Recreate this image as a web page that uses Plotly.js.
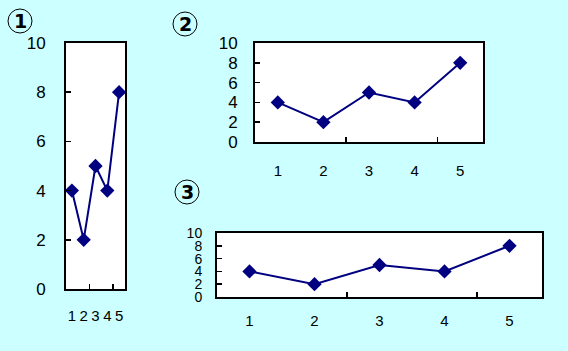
<!DOCTYPE html>
<html>
<head>
<meta charset="utf-8">
<script src="https://cdn.plot.ly/plotly-3.0.1.min.js"></script>
<style>
  html, body { margin: 0; padding: 0; background: #ccffff; }
  #chart { width: 568px; height: 351px; }
</style>
</head>
<body>
<div id="chart"></div>
<script>
// same series shown in three chart shapes
var categories = [1, 2, 3, 4, 5];
var tickLabels = ['1', '2', '3', '4', '5'];
var values = [4, 2, 5, 4, 8];
var yTicks = [0, 2, 4, 6, 8, 10];
var chartLabels = ['1', '2', '3'];

var W = 568, H = 351;
var navy = '#000080';
var fontFam = 'Liberation Sans, Arial, sans-serif';

function px(x) { return x / W; }
function py(y) { return 1 - y / H; }

function trace(n) {
    return {
        x: categories,
        y: values,
        type: 'scatter',
        mode: 'lines+markers',
        xaxis: 'x' + (n === 1 ? '' : n),
        yaxis: 'y' + (n === 1 ? '' : n),
        line: { color: navy, width: 2 },
        marker: { symbol: 'diamond', size: 11, color: navy },
        hoverinfo: 'none'
    };
}

function xAxis(domain, anchor, standoff) {
    return {
        domain: domain,
        anchor: anchor,
        range: [0.5, 5.5],
        tickmode: 'array',
        tickvals: categories,
        ticktext: tickLabels,
        ticks: '',
        ticklabelstandoff: standoff,
        tickfont: { family: fontFam, size: 15, color: '#000' },
        showgrid: false,
        zeroline: false,
        showline: true,
        mirror: true,
        linecolor: '#000',
        linewidth: 2,
        minor: { tickmode: 'array', tickvals: [2.5, 4.5], ticks: 'inside', ticklen: 5, tickwidth: 1.5, tickcolor: '#000', showgrid: false },
        fixedrange: true
    };
}

function yAxis(domain, anchor, size, standoff) {
    return {
        domain: domain,
        anchor: anchor,
        range: [0, 10],
        tickmode: 'array',
        tickvals: yTicks,
        ticks: 'inside',
        ticklen: 5,
        tickwidth: 1.5,
        tickcolor: '#000',
        ticklabelstandoff: standoff,
        tickfont: { family: fontFam, size: size, color: '#000' },
        showgrid: false,
        zeroline: false,
        showline: true,
        mirror: true,
        linecolor: '#000',
        linewidth: 2,
        fixedrange: true
    };
}

// circled chart numbers
var centers = [[20, 21], [185, 24], [187, 192]];
var shapes = [];
var annotations = [];
for (var i = 0; i < centers.length; i++) {
    var cx = centers[i][0], cy = centers[i][1], r = 12;
    shapes.push({
        type: 'circle', xref: 'paper', yref: 'paper',
        x0: px(cx - r), x1: px(cx + r), y0: py(cy + r), y1: py(cy - r),
        line: { color: '#000', width: 1 }
    });
    annotations.push({
        xref: 'paper', yref: 'paper', x: px(cx), y: py(cy),
        xanchor: 'center', yanchor: 'middle', showarrow: false,
        text: '<b>' + chartLabels[i] + '</b>',
        font: { family: 'DejaVu Sans, sans-serif', size: 19, color: '#000' }
    });
}

var layout = {
    width: W,
    height: H,
    margin: { l: 0, r: 0, t: 0, b: 0 },
    paper_bgcolor: '#ccffff',
    plot_bgcolor: '#ffffff',
    showlegend: false,
    xaxis: xAxis([px(66), px(125)], 'y', 12),
    yaxis: yAxis([py(289), py(43)], 'x', 17, 15),
    xaxis2: xAxis([px(255), px(483)], 'y2', 14),
    yaxis2: yAxis([py(142), py(43)], 'x2', 17, 12),
    xaxis3: xAxis([px(217), px(542)], 'y3', 9),
    yaxis3: yAxis([py(297), py(233)], 'x3', 14, 10),
    shapes: shapes,
    annotations: annotations
};

Plotly.newPlot('chart', [trace(1), trace(2), trace(3)], layout, { displayModeBar: false, staticPlot: true });
</script>
</body>
</html>
